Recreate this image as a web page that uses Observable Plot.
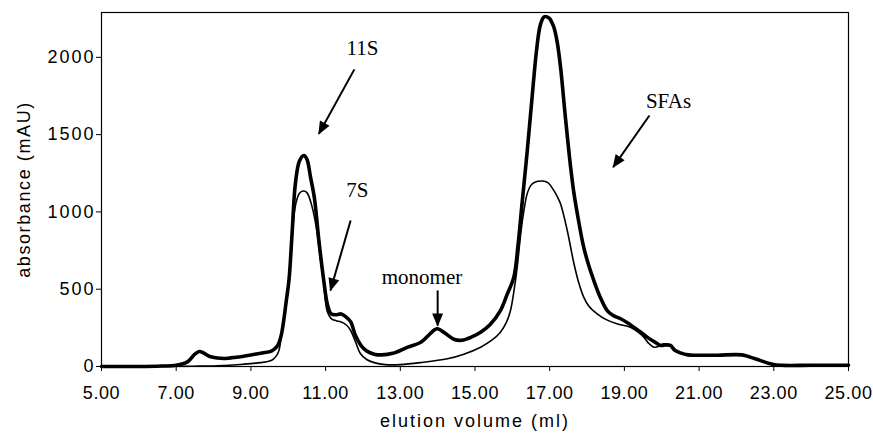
<!DOCTYPE html>
<html><head><meta charset="utf-8">
<script src="https://cdn.jsdelivr.net/npm/d3@7"></script>
<script src="https://cdn.jsdelivr.net/npm/@observablehq/plot@0.6"></script>
<style>
body{margin:0;background:#fff}
g[aria-label="y-axis tick label"] text{letter-spacing:2px}
g[aria-label="x-axis tick label"] text{letter-spacing:0.6px}
g[aria-label="y-axis label"] text{letter-spacing:1.6px;fill:#000}
g[aria-label="x-axis label"] text{letter-spacing:2px;fill:#000}
</style></head><body><div id="chart"></div><script>
// thick trace
const volA = [5.0,6.0,6.6,7.0,7.3,7.5,7.62,7.75,7.9,8.1,8.3,8.6,9.0,9.3,9.55,9.7,9.8,9.88,9.95,10.02,10.1,10.19,10.3,10.42,10.5,10.6,10.7,10.82,10.95,11.05,11.15,11.3,11.42,11.55,11.67,11.8,11.95,12.1,12.3,12.5,12.8,13.2,13.55,13.75,13.98,14.2,14.45,14.65,14.9,15.15,15.4,15.68,15.85,16.04,16.15,16.25,16.4,16.55,16.65,16.75,16.85,16.98,17.05,17.11,17.2,17.29,17.42,17.56,17.65,17.74,17.91,18.05,18.18,18.35,18.54,18.7,18.9,19.1,19.25,19.45,19.61,19.8,19.97,20.1,20.23,20.35,20.5,20.7,21.0,21.5,22.15,22.5,22.96,23.2,24.0,25.0];
const absA = [0,0,3,8,30,80,97,85,65,55,52,60,75,88,100,130,190,300,430,560,850,1180,1330,1365,1340,1220,1090,815,557,400,340,335,340,320,290,200,135,100,80,75,85,125,157,200,244,215,175,170,190,222,270,362,460,578,780,1030,1398,1800,2050,2210,2262,2255,2230,2196,2100,1937,1613,1290,1120,988,772,650,557,450,362,330,309,280,254,220,190,160,136,140,136,105,88,75,73,73,75,50,15,8,8,8];
// thin trace
const volB = [5.0,7.5,8.1,8.8,9.26,9.5,9.61,9.7,9.75,9.82,9.88,9.95,10.02,10.1,10.2,10.3,10.4,10.5,10.64,10.75,10.86,10.95,11.04,11.15,11.3,11.4,11.55,11.67,11.8,11.93,12.1,12.3,12.6,13.0,13.54,14.26,14.7,15.15,15.45,15.68,15.85,15.95,16.05,16.13,16.22,16.31,16.4,16.49,16.6,16.8,16.95,17.11,17.2,17.29,17.47,17.65,17.78,17.91,18.05,18.27,18.5,18.8,19.16,19.35,19.52,19.65,19.79,19.9,20.05,20.23,20.35,20.5,20.7,21.0,21.5,22.15,22.5,22.96,23.2,24.0,25.0];
const absB = [0,2,5,15,25,35,50,75,103,200,298,430,560,830,1050,1120,1135,1125,1031,900,700,540,360,310,295,290,270,233,160,84,45,25,12,12,25,50,80,125,170,222,290,362,500,643,850,1010,1120,1170,1192,1200,1190,1139,1100,1053,880,665,540,449,390,341,305,276,254,225,190,150,125,130,147,136,105,88,75,73,73,75,50,15,8,8,8];
// annotations
const annText = ["11S","7S","monomer","SFAs"];
const annX = [11.99,11.85,13.58,20.18];
const annY = [2060,1142,576,1718];
const arrX1 = [11.77,11.67,14.0,19.67];
const arrY1 = [1922,945,492,1624];
const arrX2 = [10.82,11.13,14.0,18.70];
const arrY2 = [1506,492,265,1290];
const xTicks = [5,7,9,11,13,15,17,19,21,23,25];
const yTicks = [0,500,1000,1500,2000];

const A = volA.map((v,i)=>({v, a:absA[i]}));
const B = volB.map((v,i)=>({v, a:absB[i]}));
const ann = annText.map((t,i)=>({t, x:annX[i], y:annY[i]}));
const arr = arrX1.map((x,i)=>({x1:x, y1:arrY1[i], x2:arrX2[i], y2:arrY2[i]}));

const svg = Plot.plot({
  width: 873, height: 437,
  marginLeft: 101, marginRight: 25, marginTop: 12, marginBottom: 71,
  style: {fontFamily: "'Liberation Sans', Arial, sans-serif", fontSize: "18px", background: "#fff", color: "#000"},
  x: {domain: [5, 25]},
  y: {domain: [0, 2290]},
  marks: [
    Plot.frame({stroke: "#000", strokeWidth: 1.2}),
    Plot.line(B, {x: "v", y: "a", stroke: "#000", strokeWidth: 1.6, curve: "catmull-rom"}),
    Plot.line(A, {x: "v", y: "a", stroke: "#000", strokeWidth: 3.6, curve: "catmull-rom"}),
    Plot.link(arr, {x1: "x1", y1: "y1", x2: "x2", y2: "y2", stroke: "#000", strokeWidth: 2}),
    Plot.text(ann, {x: "x", y: "y", text: "t", fontFamily: "'Liberation Serif', 'Times New Roman', serif", fontSize: 21, fill: "#000", lineAnchor: "middle"}),
    Plot.axisY({ticks: yTicks, tickFormat: d3.format("d"), tickSize: 5, tickPadding: 1, fontSize: 18, label: "absorbance (mAU)", labelAnchor: "center", labelOffset: 84, labelArrow: "none"}),
    Plot.axisX({ticks: xTicks, tickFormat: d3.format(".2f"), tickSize: 5, tickPadding: 15, fontSize: 18, label: "elution volume (ml)", labelAnchor: "center", labelOffset: 60, labelArrow: "none"})
  ]
});

const s = d3.select(svg);
const defs = s.insert("defs", ":first-child");
defs.append("marker").attr("id", "ah").attr("viewBox", "0 0 12 10").attr("refX", 11).attr("refY", 5)
  .attr("markerWidth", 7).attr("markerHeight", 5.5).attr("orient", "auto")
  .append("path").attr("d", "M0,0L12,5L0,10Z").attr("fill", "#000");
s.selectAll('g[aria-label="link"] path, g[aria-label="link"] line').attr("marker-end", "url(#ah)");
document.getElementById("chart").appendChild(svg);
</script></body></html>
